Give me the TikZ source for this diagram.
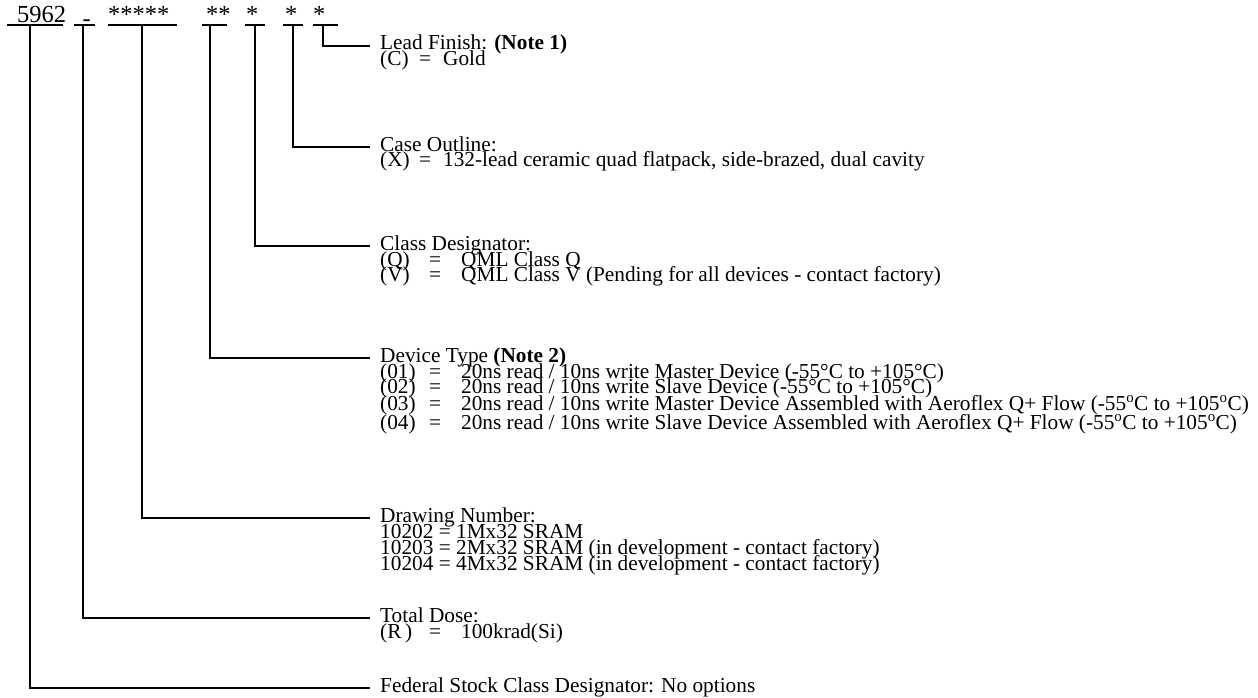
\documentclass[tikz,border=0pt]{standalone}
\usepackage{fontspec}
\setmainfont{Liberation Serif}
\newcommand{\bodyfnt}{\fontsize{21.3}{17}\selectfont}
\newcommand{\codefnt}{\fontsize{24.5}{26}\selectfont}
\newcommand{\opt}[4]{\makebox[#1pt][l]{#2}\makebox[#3pt][l]{=}#4}
\tikzset{
  code/.style={font=\codefnt, inner sep=0pt, anchor=base west},
  uline/.style={line width=2pt},
  conn/.style={line width=2.6pt, line join=miter},
  head/.style={anchor=west, inner xsep=10pt, inner ysep=0pt, text height=12pt, text depth=4pt, font=\bodyfnt},
  optline/.style={anchor=base west, inner sep=0pt, font=\bodyfnt},
}
\begin{document}
\begin{tikzpicture}[x=1pt,y=-1pt]
\useasboundingbox (0,0) rectangle (1258,698);
% part number code
\node[code] (c5962) at (17,23) {5962};
\node[code] (cdash) at (82.5,27) {-};
\node[code] (cdraw) at (108,23) {*****};
\node[code] (cdev) at (206,23) {**};
\node[code] (ccls) at (246,23) {*};
\node[code] (ccase) at (285,23) {*};
\node[code] (clead) at (313,23) {*};
% underlines
\draw[uline] (7,25.5) -- (63,25.5);
\draw[uline] (74,25.5) -- (95,25.5);
\draw[uline] (108,25.5) -- (177,25.5);
\draw[uline] (202,25.5) -- (227,25.5);
\draw[uline] (245,25.5) -- (265,25.5);
\draw[uline] (283,25.5) -- (303,25.5);
\draw[uline] (313,25.5) -- (338,25.5);
% connector start points
\coordinate (t1) at (30,25.5);
\coordinate (t2) at (83,25.5);
\coordinate (t3) at (142,25.5);
\coordinate (t4) at (210,25.5);
\coordinate (t5) at (255,25.5);
\coordinate (t6) at (293,25.5);
\coordinate (t7) at (323,25.5);
% headers and options
\node[head] (lead) at (370,46) {Lead Finish: \textbf{(Note 1)}};
\node[optline] (lead1) at (380,66) {\opt{39}{(C)}{24}{Gold}};
\node[head] (case) at (370,147) {Case Outline:};
\node[optline] (case1) at (380,167) {\opt{39}{(X)}{24}{132-lead ceramic quad flatpack, side-brazed, dual cavity}};
\node[head] (cls) at (370,246) {Class Designator:};
\node[optline] (cls1) at (380,266) {\opt{49}{(Q)}{32}{QML Class Q}};
\node[optline] (cls2) at (380,281) {\opt{49}{(V)}{32}{QML Class V (Pending for all devices - contact factory)}};
\node[head] (dev) at (370,358) {Device Type \textbf{(Note 2)}};
\node[optline] (dev1) at (380,378) {\opt{49}{(01)}{32}{20ns read / 10ns write Master Device (-55°C to +105°C)}};
\node[optline] (dev2) at (380,393) {\opt{49}{(02)}{32}{20ns read / 10ns write Slave Device (-55°C to +105°C)}};
\node[optline] (dev3) at (380,410) {\opt{49}{(03)}{32}{20ns read / 10ns write Master Device Assembled with Aeroflex Q+ Flow (-55\textsuperscript{o}C to +105\textsuperscript{o}C)}};
\node[optline] (dev4) at (380,429) {\opt{49}{(04)}{32}{20ns read / 10ns write Slave Device Assembled with Aeroflex Q+ Flow (-55\textsuperscript{o}C to +105\textsuperscript{o}C)}};
\node[head] (draw) at (370,518) {Drawing Number:};
\node[optline] (draw1) at (380,538) {10202 = 1Mx32 SRAM};
\node[optline] (draw2) at (380,554) {10203 = 2Mx32 SRAM (in development - contact factory)};
\node[optline] (draw3) at (380,570) {10204 = 4Mx32 SRAM (in development - contact factory)};
\node[head] (dose) at (370,618) {Total Dose:};
\node[optline] (dose1) at (380,638) {\opt{49}{(R\,)}{32}{100krad(Si)}};
\node[head] (fed) at (370,688) {Federal Stock Class Designator: No options};
% connectors
\draw[conn] (t1) |- (fed.west);
\draw[conn] (t2) |- (dose.west);
\draw[conn] (t3) |- (draw.west);
\draw[conn] (t4) |- (dev.west);
\draw[conn] (t5) |- (cls.west);
\draw[conn] (t6) |- (case.west);
\draw[conn] (t7) |- (lead.west);
\end{tikzpicture}
\end{document}
